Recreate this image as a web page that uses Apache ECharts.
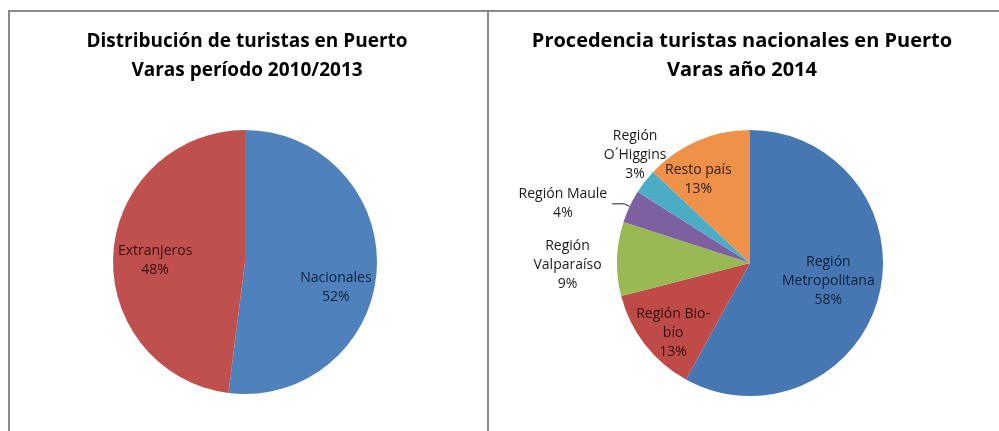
<!DOCTYPE html>
<html>
<head>
<meta charset="utf-8">
<script src="https://cdn.jsdelivr.net/npm/echarts@6/dist/echarts.min.js"></script>
<style>
  html, body { margin: 0; padding: 0; background: #fff; }
  #chart { width: 999px; height: 431px; }
</style>
</head>
<body>
<div id="chart"></div>
<script>
// datos: distribución 2010/2013
const tipoNames = ['Nacionales', 'Extranjeros'];
const tipoValues = [52, 48];

// datos: procedencia turistas nacionales 2014
const origenNames = ['Región\nMetropolitana', 'Región Bio-\nbío', 'Región\nValparaíso', 'Región Maule', 'Región\nO´Higgins', 'Resto país'];
const origenValues = [58, 13, 9, 4, 3, 13];

// estilos
const tipoColors = ['#4F81BD', '#C0504D'];
const origenColors = ['#4777B2', '#BE4B48', '#98B954', '#7D60A0', '#4BACC6', '#F0914A'];
const tipoLabelColors = ['#10203a', '#350f0e'];
const origenLabelColors = ['#10203a', '#350f0e', '#1a1a1a', '#1a1a1a', '#1a1a1a', '#33200c'];
// desplazamiento de etiquetas respecto a la posición interior por defecto
const tipoOffsets = [[22, 21], [-21, 3]];
const origenOffsets = [[11, 1], [-22, 27], [-113, 4], null, [-60, -65], [-24, -20]];

const FONT = '"Open Sans", sans-serif';

const chart = echarts.init(document.getElementById('chart'));

const pctText = (name, pct) => {
  const lines = name.split('\n').concat([Math.round(pct) + '%']);
  return lines.map(l => '{c|' + l + '}').join('\n');
};

const option = {
  animation: false,
  title: [
    {
      text: 'Distribución de turistas en Puerto\nVaras período 2010/2013',
      left: 247, top: 27, textAlign: 'center', padding: 0,
      textStyle: { fontFamily: FONT, fontSize: 19, fontWeight: 'bold', color: '#000', lineHeight: 29 }
    },
    {
      text: 'Procedencia turistas nacionales en Puerto\nVaras año 2014',
      left: 742, top: 27, textAlign: 'center', padding: 0,
      textStyle: { fontFamily: FONT, fontSize: 20, fontWeight: 'bold', color: '#000', lineHeight: 29 }
    }
  ],
  graphic: [
    { type: 'line', shape: { x1: 8, y1: 11, x2: 999, y2: 11 }, style: { stroke: '#8a8a8a', lineWidth: 2 } },
    { type: 'line', shape: { x1: 9, y1: 11, x2: 9, y2: 431 }, style: { stroke: '#8a8a8a', lineWidth: 2 } },
    { type: 'line', shape: { x1: 488, y1: 11, x2: 488, y2: 431 }, style: { stroke: '#8a8a8a', lineWidth: 2 } }
  ],
  series: [
    {
      type: 'pie',
      center: [245, 262],
      radius: 132,
      startAngle: 90,
      avoidLabelOverlap: false,
      data: tipoNames.map((n, i) => ({
        name: n, value: tipoValues[i],
        itemStyle: { color: tipoColors[i] },
        label: { rich: { c: { color: tipoLabelColors[i] } } }
      })),
      label: {
        position: 'inside',
        fontFamily: FONT, fontSize: 14, lineHeight: 19,
        formatter: p => pctText(p.name, p.percent),
        rich: { c: { fontFamily: FONT, fontSize: 14, lineHeight: 19, align: 'center' } }
      },
      labelLine: { show: false },
      labelLayout: p => {
        const o = tipoOffsets[p.dataIndex];
        return o ? { dx: o[0], dy: o[1] } : {};
      },
      emphasis: { disabled: true }
    },
    {
      type: 'pie',
      center: [750, 263],
      radius: 133,
      startAngle: 90,
      avoidLabelOverlap: false,
      data: origenNames.map((n, i) => {
        const d = {
          name: n, value: origenValues[i],
          itemStyle: { color: origenColors[i] },
          label: { rich: { c: { color: origenLabelColors[i] } } }
        };
        if (origenOffsets[i] === null) {
          d.label.position = 'outside';
          d.labelLine = { show: true, length: 6, length2: 12, lineStyle: { color: '#222', width: 1 } };
        }
        return d;
      }),
      label: {
        position: 'inside',
        fontFamily: FONT, fontSize: 14, lineHeight: 19,
        formatter: p => pctText(p.name, p.percent),
        rich: { c: { fontFamily: FONT, fontSize: 14, lineHeight: 19, align: 'center' } }
      },
      labelLine: { show: false },
      labelLayout: p => {
        const o = origenOffsets[p.dataIndex];
        return o ? { dx: o[0], dy: o[1] } : {};
      },
      emphasis: { disabled: true }
    }
  ]
};

chart.setOption(option);
</script>
</body>
</html>
